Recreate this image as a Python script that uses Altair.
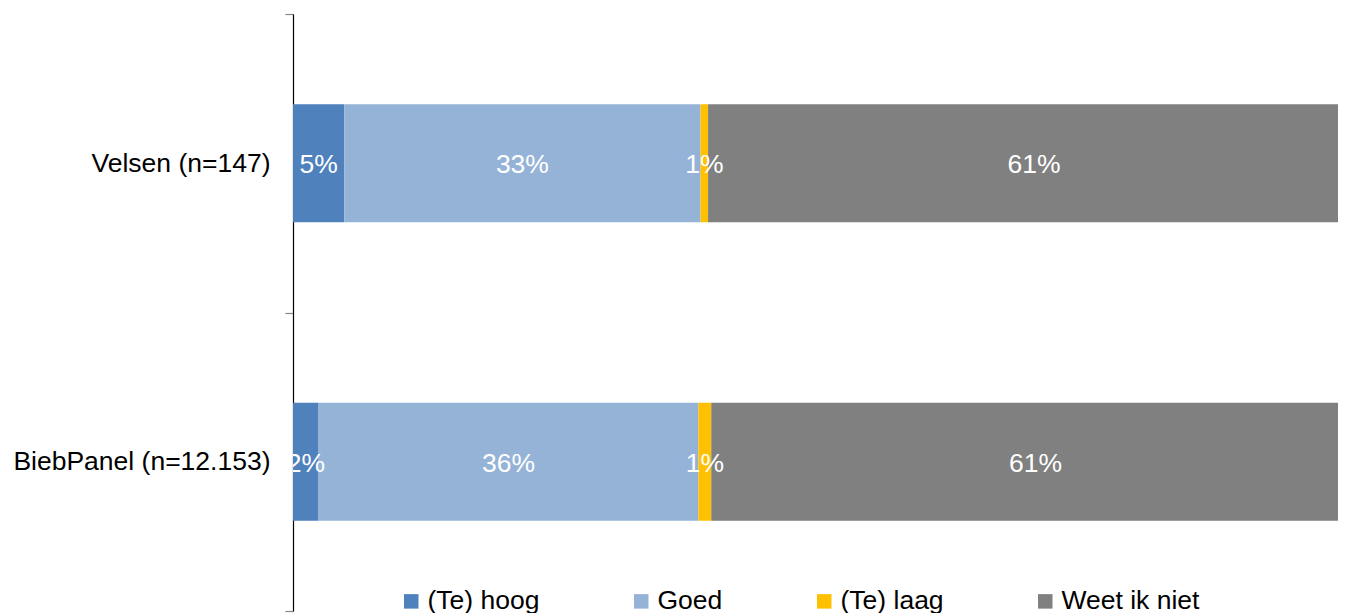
import altair as alt
import pandas as pd

categories = ["Velsen (n=147)", "BiebPanel (n=12.153)"]
series = ["(Te) hoog", "Goed", "(Te) laag", "Weet ik niet"]
colors = ["#4F81BD", "#95B3D7", "#FFC000", "#808080"]
velsen = [4.8, 33.4, 0.7, 61.1]
biebpanel = [2.4, 35.6, 1.2, 60.8]

rows = []
for cat, vals in zip(categories, [velsen, biebpanel]):
    for i, (s, v) in enumerate(zip(series, vals)):
        rows.append({"cat": cat, "serie": s, "value": v, "order": i,
                     "label": f"{round(v)}%"})
df = pd.DataFrame(rows)

FONT = "Liberation Sans"

y_enc = alt.Y("cat:N", sort=categories, title=None,
              scale=alt.Scale(paddingInner=0, paddingOuter=0),
              axis=alt.Axis(domainColor="black", domainWidth=1.2,
                            tickColor="#868686", tickWidth=1.2, tickSize=8,
                            tickBand="extent", labelFontSize=26.5,
                            labelColor="black", labelFont=FONT,
                            labelPadding=15, labelLimit=400, grid=False))

x_scale = alt.Scale(domain=[0, 97.94], nice=False, zero=True)

bars = alt.Chart(df).mark_bar(clip=True, size=118).encode(
    x=alt.X("value:Q", stack="zero", scale=x_scale, axis=None),
    y=y_enc,
    color=alt.Color("serie:N", sort=series,
                    scale=alt.Scale(domain=series, range=colors),
                    legend=alt.Legend(title=None, orient="none",
                                      direction="horizontal",
                                      legendX=105, legendY=574,
                                      symbolType="square", symbolSize=210,
                                      symbolStrokeWidth=0, labelFontSize=26.5,
                                      labelFont=FONT, labelColor="black",
                                      labelOffset=3, columnPadding=88,
                                      labelLimit=400)),
    order=alt.Order("order:Q"),
)

text = alt.Chart(df).transform_stack(
    stack="value", groupby=["cat"], as_=["x0", "x1"],
    sort=[alt.SortField("order", "ascending")]
).transform_calculate(
    mid="(datum.x0 + datum.x1) / 2"
).mark_text(color="white", fontSize=26.5, font=FONT, baseline="middle",
            dy=2, clip=True).encode(
    x=alt.X("mid:Q", scale=x_scale, axis=None),
    y=alt.Y("cat:N", sort=categories),
    text="label:N",
)

chart = alt.layer(bars, text).properties(
    width=1045, height=597,
    autosize=alt.AutoSizeParams(type="none"),
    padding={"left": 285, "top": 6, "right": 0, "bottom": 2},
).configure(font=FONT).configure_view(strokeWidth=0, stroke="transparent")

chart.save("out.html", embed_options={"renderer": "svg", "actions": False})
